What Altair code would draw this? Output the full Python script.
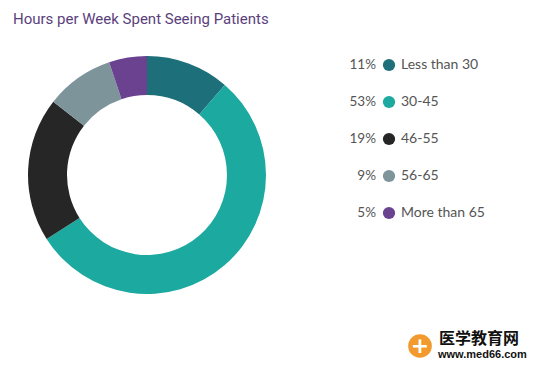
import altair as alt
import pandas as pd

title_text = "Hours per Week Spent Seeing Patients"
categories = ["Less than 30", "30-45", "46-55", "56-65", "More than 65"]
percents = [11, 53, 19, 9, 5]
colors = ["#1d6f79", "#1ba9a0", "#262626", "#7e949b", "#6a4290"]
pct_labels = [f"{p}%" for p in percents]
wm_lines = ["医学教育网", "www.med66.com"]

df = pd.DataFrame({
    "cat": categories,
    "pct": percents,
    "order": list(range(len(categories))),
    "pct_label": pct_labels,
})

color = alt.Color("cat:N", scale=alt.Scale(domain=categories, range=colors), legend=None)
ypos = alt.Y("cat:N", scale=alt.Scale(domain=categories, range=[57, 205], padding=0), axis=None)

base = alt.Chart(df)

donut = base.mark_arc(innerRadius=80, outerRadius=119, strokeWidth=0).encode(
    theta=alt.Theta("pct:Q", stack=True),
    order=alt.Order("order:Q"),
    color=color,
    x=alt.value(139),
    y=alt.value(167),
)

leg_pct = base.mark_text(align="right", baseline="middle", font="Lato", fontSize=13.5, color="#555555").encode(
    y=ypos, x=alt.value(368), text="pct_label:N"
)
leg_dot = base.mark_point(filled=True, size=150, opacity=1, shape="circle").encode(
    y=ypos, x=alt.value(381), color=color
)
leg_lbl = base.mark_text(align="left", baseline="middle", font="Lato", fontSize=14, color="#555555").encode(
    y=ypos, x=alt.value(393), text="cat:N"
)

title = alt.Chart(pd.DataFrame({"t": [title_text]})).mark_text(
    align="left", baseline="alphabetic", font="Roboto", fontSize=15, color="#5b3f7d"
).encode(x=alt.value(5), y=alt.value(16), text="t:N")

wm_logo = alt.Chart(pd.DataFrame({"t": ["+"]})).mark_point(filled=True, size=560, color="#f29a2e", opacity=1).encode(
    x=alt.value(412), y=alt.value(338)
)
wm_cross = alt.Chart(pd.DataFrame({"t": ["+"]})).mark_text(
    font="DejaVu Sans", fontSize=22, fontWeight="bold", color="white", baseline="middle", align="center"
).encode(x=alt.value(412), y=alt.value(338), text="t:N")
wm_cn = alt.Chart(pd.DataFrame({"t": [wm_lines[0]]})).mark_text(
    align="left", baseline="middle", font="Noto Sans CJK SC", fontSize=16, fontWeight="bold", color="#111111"
).encode(x=alt.value(431), y=alt.value(331), text="t:N")
wm_url = alt.Chart(pd.DataFrame({"t": [wm_lines[1]]})).mark_text(
    align="left", baseline="middle", font="Liberation Sans", fontSize=11, fontWeight="bold", color="#111111"
).encode(x=alt.value(430), y=alt.value(347), text="t:N")

chart = alt.layer(donut, leg_pct, leg_dot, leg_lbl, title, wm_logo, wm_cross, wm_cn, wm_url).properties(
    width=534, height=358, autosize=alt.AutoSizeParams(type="none"), padding=0
).configure_view(stroke=None)

chart.save("out.html", embed_options={"renderer": "svg", "actions": False})
